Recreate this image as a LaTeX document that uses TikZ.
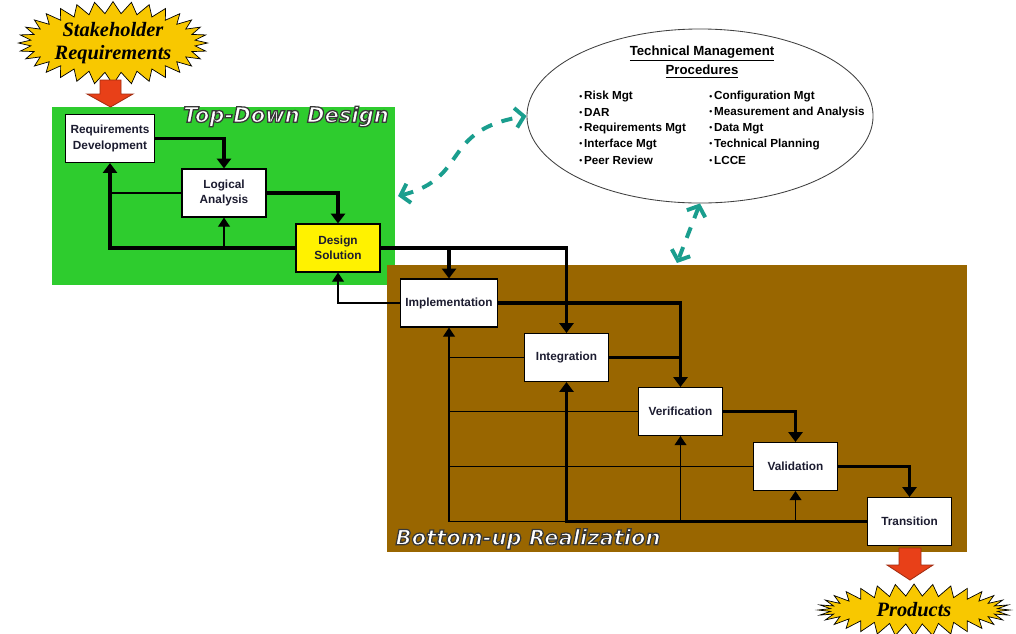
\documentclass[tikz,border=0pt]{standalone}
\usepackage{fontspec}
\setmainfont{Liberation Sans}
\newfontfamily\starfont{Liberation Serif}
\newfontfamily\bannerfont{DejaVu Sans}
\usepackage{tikz}
\usetikzlibrary{arrows.meta,shapes.geometric,shapes.symbols}

\definecolor{tdgreen}{RGB}{46,204,46}
\definecolor{bubrown}{RGB}{153,102,0}
\definecolor{burstgold}{RGB}{248,200,0}
\definecolor{blockred}{RGB}{232,64,24}
\definecolor{procteal}{RGB}{26,158,142}
\definecolor{boxtext}{RGB}{28,28,48}

\begin{document}
\begin{tikzpicture}[x=0.025cm,y=-0.025cm,
  box/.style={draw=black,line width=0.8pt,fill=white,minimum width=2.1cm,minimum height=1.2cm,
    align=center,text=boxtext,font=\fontsize{8.4}{11}\selectfont\bfseries},
  flow/.style={line width=2.6pt,-{Triangle[length=7pt,width=10pt]}},
  back/.style={line width=1pt,-{Triangle[length=6.5pt,width=8.5pt]}},
  tie/.style={line width=1pt},
  link/.style={procteal,line width=2.8pt,dash pattern=on 8pt off 7pt,
    {Straight Barb[length=6pt,width=14pt]}-{Straight Barb[length=6pt,width=14pt]}},
  burst/.style={starburst,starburst points=32,starburst point height=0.3cm,random starburst=0,
    fill=burstgold,draw=black,line width=0.5pt,align=center,inner sep=0pt,
    font=\starfont\fontsize{14.5}{16.5}\selectfont\bfseries\itshape},
  blockarrow/.style={fill=blockred,draw=blockred!70!black,line width=0.6pt},
  banner/.style={inner sep=0pt,text=white,font=\bannerfont\fontsize{15}{18}\selectfont\bfseries\itshape},
  item/.style={anchor=west,inner sep=0pt,font=\fontsize{8.3}{10}\selectfont\bfseries},
]
\useasboundingbox[fill=white] (0,0) rectangle (1016,633);

% Top-down design area
\fill[tdgreen] (52,107) rectangle (395,285);
\node[banner] (tdtitle) at (286,116.5)
  {\special{pdf:literal 2 Tr 0.9 w 0.22 0.22 0.22 RG}Top-Down Design\special{pdf:literal 0 Tr}};

% Bottom-up realization area
\fill[bubrown] (387,265) rectangle (967,552);
\node[banner] (butitle) at (528,539)
  {\special{pdf:literal 2 Tr 0.9 w 0.22 0.22 0.22 RG}Bottom-up Realization\special{pdf:literal 0 Tr}};

% Process boxes
\node[box] (reqdev) at (110,138.5) {Requirements\\Development};
\node[box] (logic) at (224,193) {Logical\\Analysis};
\node[box,fill=yellow] (design) at (338,248) {Design\\Solution};
\node[box,minimum width=2.3cm] (impl) at (449,303) {Implementation};
\node[box] (integ) at (566.5,357.5) {Integration};
\node[box] (verif) at (680.5,411.5) {Verification};
\node[box] (valid) at (795.5,466.5) {Validation};
\node[box] (trans) at (909.5,521.5) {Transition};

% Design loop
\draw[flow] (reqdev.east) -| (logic.north);
\draw[flow] (logic.east) -| (design.north);
\draw[flow] (design.west) -| (reqdev.south);
\draw[tie] (logic.west) -- (logic.west -| reqdev.south);
\draw[back] (logic.south |- design.west) -- (logic.south);

% Realization loop
\draw[flow] (design.east) -| (integ.north);
\draw[flow] (design.east -| impl.north) -- (impl.north);
\draw[back] (impl.west) -| (design.south);
\draw[flow] (impl.east) -| (verif.north);
\draw[line width=2.6pt] (integ.east) -- (integ.east -| verif.north);
\draw[flow] (verif.east) -| (valid.north);
\draw[flow] (valid.east) -| (trans.north);
\draw[flow] (trans.west) -| (integ.south);
\draw[back] (verif.south |- trans.west) -- (verif.south);
\draw[back] (valid.south |- trans.west) -- (valid.south);
\draw[back] (integ.south |- trans.west) -| (impl.south);
\foreach \b in {integ,verif,valid}
  \draw[tie] (\b.west) -- (\b.west -| impl.south);

% Technical management procedures
\node[ellipse,draw=black!75,line width=0.6pt,fill=white,minimum width=8.65cm,minimum height=4.35cm] (tmp) at (700,116) {};
\node[align=center,font=\fontsize{9.4}{13.5}\selectfont\bfseries] (tmptitle) at (702,62)
  {\underline{Technical Management}\\\underline{Procedures}};
\foreach \txt [count=\i] in {Risk Mgt,DAR,Requirements Mgt,Interface Mgt,Peer Review}
  \node[item] (lp\i) at (579,{97+15.75*(\i-1)}) {\raisebox{0.6pt}{\fontsize{6}{6}\selectfont\textbullet}\,\txt};
\foreach \txt [count=\i] in {Configuration Mgt,Measurement and Analysis,Data Mgt,Technical Planning,LCCE}
  \node[item] (rp\i) at (709,{97+15.75*(\i-1)}) {\raisebox{0.6pt}{\fontsize{6}{6}\selectfont\textbullet}\,\txt};

% Links to the procedures
\coordinate (tdport) at (398,196);
\coordinate (buport) at (677,263);
\draw[link] (tdport) .. controls (470,178) and (440,130) .. (tmp.west);
\draw[link] (tmp.south) -- (buport);

% Inputs and outputs
\node[burst,minimum width=4.4cm,minimum height=1.3cm] (stake) at (113,43) {Stakeholder\\Requirements};
\draw[blockarrow] (100,80) -- (121,80) -- (121,94) -- (133,94) -- (110.5,107) -- (87,94) -- (100,94) -- cycle;
\node[burst,minimum width=4.8cm,minimum height=1.3cm] (prod) at (914,610) {Products};
\draw[blockarrow] (899,548) -- (921,548) -- (921,565) -- (933,565) -- (910,580) -- (887,565) -- (899,565) -- cycle;
\end{tikzpicture}
\end{document}
